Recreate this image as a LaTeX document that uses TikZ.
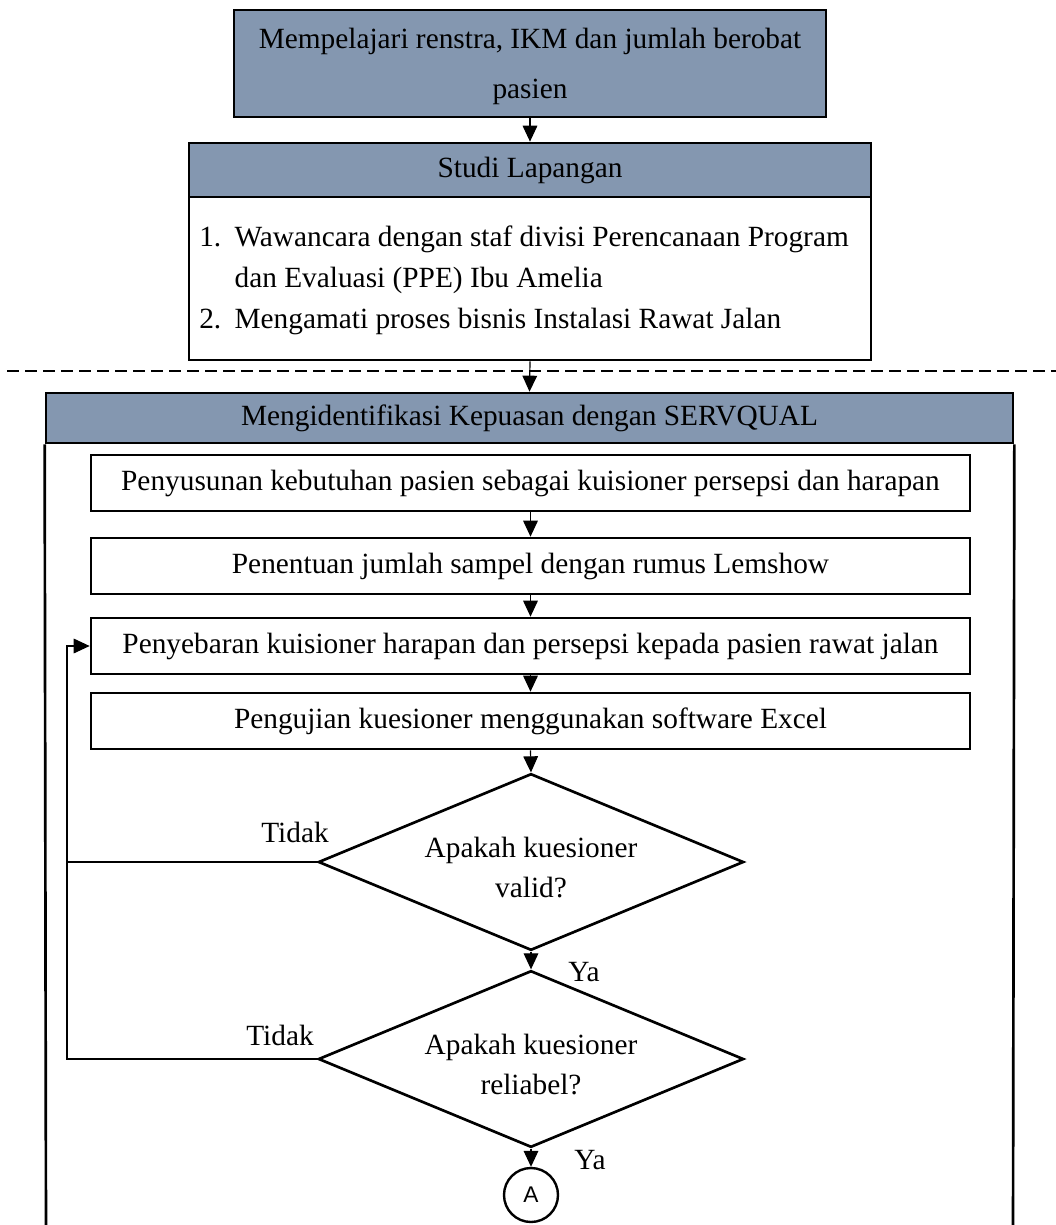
\documentclass[tikz,border=0pt]{standalone}
\usepackage{fontspec}
\setmainfont{Liberation Serif}
\newfontfamily\labelsans{Liberation Sans}
\usetikzlibrary{arrows.meta,shapes.geometric}
\definecolor{hdrblue}{RGB}{132,151,176}
\tikzset{
  base/.style={font=\fontsize{22}{30}\selectfont},
  boxline/.style={draw=black, line width=2pt},
  hdrbox/.style={base, boxline, fill=hdrblue, rectangle, inner sep=0pt, align=center},
  plainbox/.style={base, boxline, fill=white, rectangle, inner sep=0pt, align=center},
  stepbox/.style={plainbox, minimum width=659.25pt, minimum height=42pt},
  decision/.style={boxline, diamond, aspect=2.4, inner sep=0pt,
                   minimum width=319pt, minimum height=132.5pt},
  dtext/.style={base, inner sep=0pt, align=center},
  flow/.style={line width=0.9pt, -{Triangle[length=12pt,width=11pt]}},
  link/.style={line width=0.9pt},
  lbl/.style={base, inner sep=0pt}
}
\begin{document}
\begin{tikzpicture}[x=0.75pt,y=-0.75pt]
\clip (0,0) rectangle (1056,1225);

% --- preparation stage ---
\node[hdrbox, minimum width=444pt, minimum height=80.25pt,
      font=\fontsize{22}{37.5}\selectfont] (prep) at (530,63.5)
  {\raisebox{-6.75pt}{\begin{tabular}{@{}c@{}}Mempelajari renstra, IKM dan jumlah berobat\\pasien\end{tabular}}};

\node[plainbox, minimum width=511.5pt, minimum height=122.25pt] (studibody) at (530,278.5) {};
\node[hdrbox, minimum width=511.5pt, minimum height=40.5pt] (studihead) at (530,170) {\raisebox{-2pt}{Studi Lapangan}};
\node[base, inner sep=0pt, anchor=west, font=\fontsize{22}{30.75}\selectfont] (studilist) at (199,279)
  {\begin{tabular}{@{}l@{\hspace{10pt}}l@{}}
    1. & Wawancara dengan staf divisi Perencanaan Program\\
       & dan Evaluasi (PPE) Ibu Amelia\\
    2. & Mengamati proses bisnis Instalasi Rawat Jalan
   \end{tabular}};

\draw[flow] (prep.south) -- (studihead.north);

% --- stage separator ---
\coordinate (sepL) at (7,371);
\coordinate (sepR) at (1056,371);
\draw[line width=0.8pt, dash pattern=on 9pt off 4.5pt] (sepL) -- (sepR);

% --- SERVQUAL frame ---
\node[hdrbox, minimum width=725.25pt, minimum height=37.5pt] (framehead) at (529.5,418)
  {Mengidentifikasi Kepuasan dengan SERVQUAL};
\coordinate (frameBL) at (46,1240);
\coordinate (frameBR) at (1013,1240);
\draw[boxline] (framehead.south west) -- (frameBL) -- (frameBR) -- (framehead.south east);

\draw[flow] (studibody.south) -- (framehead.north);

% --- steps ---
\node[stepbox] (susun) at (530.5,483) {Penyusunan kebutuhan pasien sebagai kuisioner persepsi dan harapan};
\node[stepbox] (sampel) at (530.5,566) {Penentuan jumlah sampel dengan rumus Lemshow};
\node[stepbox] (sebar) at (530.5,646) {Penyebaran kuisioner harapan dan persepsi kepada pasien rawat jalan};
\node[stepbox] (uji) at (530.5,721) {Pengujian kuesioner menggunakan software Excel};

\node[decision] (valid) at (531,862) {};
\node[dtext] (validtext) at (531,868) {Apakah kuesioner\\valid?};
\node[decision] (reliabel) at (531,1059) {};
\node[dtext] (reliabeltext) at (531,1065) {Apakah kuesioner\\reliabel?};

\node[draw, line width=1.8pt, circle, minimum size=40.5pt, inner sep=0pt,
      font=\labelsans\fontsize{17}{19}\selectfont] (conA) at (531,1195) {A};

\draw[flow] (susun.south) -- (sampel.north);
\draw[flow] (sampel.south) -- (sebar.north);
\draw[flow] (sebar.south) -- (uji.north);
\draw[flow] (uji.south) -- (valid.north);
\draw[flow] (valid.south) -- (reliabel.north);
\draw[flow] (reliabel.south) -- (conA.north);

% --- rejection loop back to distribution ---
\coordinate (loopTop) at (67,646);
\coordinate (loopMid) at (67,862);
\coordinate (loopBot) at (67,1059);
\draw[link] (reliabel.west) -- (loopBot) -- (loopMid);
\draw[flow] (valid.west) -- (loopMid) -- (loopTop) -- (sebar.west);

% --- branch labels ---
\node[lbl] (tidak1) at (295,832) {Tidak};
\node[lbl] (tidak2) at (280,1035) {Tidak};
\node[lbl] (ya1) at (584,972) {Ya};
\node[lbl] (ya2) at (590,1160) {Ya};
\end{tikzpicture}
\end{document}
